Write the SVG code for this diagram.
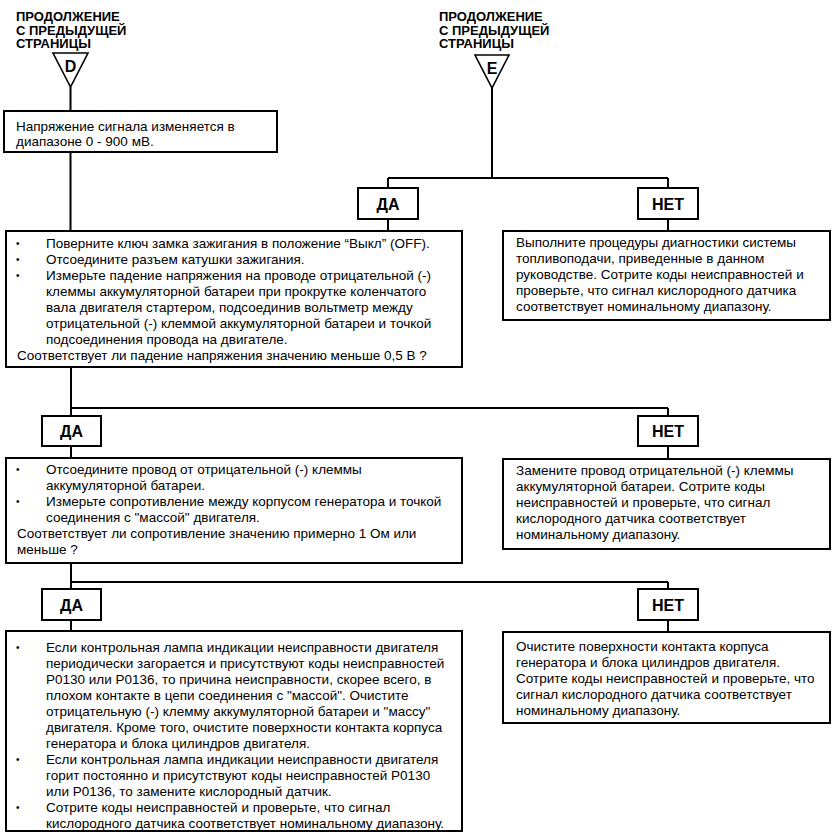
<svg xmlns="http://www.w3.org/2000/svg" width="835" height="836" viewBox="0 0 835 836">
<style>
.bg{fill:#fff}
.box{fill:#fff;stroke:#000;stroke-width:2}
.tri{fill:#fff;stroke:#000;stroke-width:1.6;stroke-linejoin:miter}
.con{fill:none;stroke:#000;stroke-width:2}
.t{font-family:"Liberation Sans",Arial,sans-serif;font-size:13.5px;fill:#000}
.h{font-family:"Liberation Sans",Arial,sans-serif;font-size:13px;font-weight:bold;fill:#000}
.lbl{font-family:"Liberation Sans",Arial,sans-serif;font-size:16px;font-weight:bold;fill:#000;text-anchor:middle}
.tl{font-family:"Liberation Sans",Arial,sans-serif;font-size:16px;font-weight:bold;fill:#000;text-anchor:middle}
.b{font-family:"Liberation Sans",Arial,sans-serif;font-size:10px;fill:#000}
</style>
<rect class="bg" x="0" y="0" width="835" height="836"/>
<g id="connectors">
<path class="con" d="M70.5 87V111M70.5 152V231"/>
<path class="con" d="M492 88V178M388 178H668M388 178V188M388 219V231M668 178V188M668 219V231"/>
<path class="con" d="M71 367V416M71 446V458M71 408H668M668 408V416M668 446V459"/>
<path class="con" d="M71 563V589M71 620V631M71 582H668M668 582V589M668 620V632"/>
</g>
<g id="startD">
<text class="h"><tspan x="16" y="21">ПРОДОЛЖЕНИЕ</tspan><tspan x="16" y="34.5">С ПРЕДЫДУЩЕЙ</tspan><tspan x="16" y="48">СТРАНИЦЫ</tspan></text>
<path class="tri" d="M53 53H88L70.5 87Z"/>
<text class="tl" x="70.5" y="72">D</text>
</g>
<g id="startE">
<text class="h"><tspan x="439" y="21">ПРОДОЛЖЕНИЕ</tspan><tspan x="439" y="34.5">С ПРЕДЫДУЩЕЙ</tspan><tspan x="439" y="48">СТРАНИЦЫ</tspan></text>
<path class="tri" d="M475 55H509L492 88Z"/>
<text class="tl" x="492" y="74">E</text>
</g>
<g id="n1">
<rect class="box" x="4" y="111" width="273" height="41"/>
<text class="t"><tspan x="16" y="131">Напряжение сигнала изменяется в</tspan><tspan x="16" y="146">диапазоне 0 - 900 мВ.</tspan></text>
</g>
<g id="yes1">
<rect class="box" x="358" y="188" width="60" height="31"/>
<text class="lbl" x="388" y="209.5">ДА</text>
</g>
<g id="no1">
<rect class="box" x="638" y="188" width="60" height="31"/>
<text class="lbl" x="668" y="209.5">НЕТ</text>
</g>
<g id="n2">
<rect class="box" x="6" y="231" width="456" height="136"/>
<text class="b"><tspan x="16" y="247">•</tspan><tspan x="16" y="263">•</tspan><tspan x="16" y="279">•</tspan></text>
<text class="t"><tspan x="46" y="248">Поверните ключ замка зажигания в положение “Выкл” (OFF).</tspan><tspan x="46" y="264">Отсоедините разъем катушки зажигания.</tspan><tspan x="46" y="280">Измерьте падение напряжения на проводе отрицательной (-)</tspan><tspan x="46" y="296">клеммы аккумуляторной батареи при прокрутке коленчатого</tspan><tspan x="46" y="312">вала двигателя стартером, подсоединив вольтметр между</tspan><tspan x="46" y="328">отрицательной (-) клеммой аккумуляторной батареи и точкой</tspan><tspan x="46" y="344">подсоединения провода на двигателе.</tspan><tspan x="17" y="360">Соответствует ли падение напряжения значению меньше 0,5 В ?</tspan></text>
</g>
<g id="n3">
<rect class="box" x="503" y="231" width="327" height="89"/>
<text class="t"><tspan x="516" y="247">Выполните процедуры диагностики системы</tspan><tspan x="516" y="263">топливоподачи, приведенные в данном</tspan><tspan x="516" y="279">руководстве. Сотрите коды неисправностей и</tspan><tspan x="516" y="295">проверьте, что сигнал кислородного датчика</tspan><tspan x="516" y="311">соответствует номинальному диапазону.</tspan></text>
</g>
<g id="yes2">
<rect class="box" x="42" y="416" width="59" height="30"/>
<text class="lbl" x="71.5" y="437">ДА</text>
</g>
<g id="no2">
<rect class="box" x="638" y="416" width="60" height="30"/>
<text class="lbl" x="668" y="437">НЕТ</text>
</g>
<g id="n4">
<rect class="box" x="6" y="458" width="456" height="105"/>
<text class="b"><tspan x="16" y="473">•</tspan><tspan x="16" y="505">•</tspan></text>
<text class="t"><tspan x="46" y="474">Отсоедините провод от отрицательной (-) клеммы</tspan><tspan x="46" y="490">аккумуляторной батареи.</tspan><tspan x="46" y="506">Измерьте сопротивление между корпусом генератора и точкой</tspan><tspan x="46" y="522">соединения с "массой" двигателя.</tspan><tspan x="17" y="538">Соответствует ли сопротивление значению примерно 1 Ом или</tspan><tspan x="17" y="554">меньше ?</tspan></text>
</g>
<g id="n5">
<rect class="box" x="503" y="459" width="327" height="90"/>
<text class="t"><tspan x="516" y="475">Замените провод отрицательной (-) клеммы</tspan><tspan x="516" y="491">аккумуляторной батареи. Сотрите коды</tspan><tspan x="516" y="507">неисправностей и проверьте, что сигнал</tspan><tspan x="516" y="523">кислородного датчика соответствует</tspan><tspan x="516" y="539">номинальному диапазону.</tspan></text>
</g>
<g id="yes3">
<rect class="box" x="42" y="589" width="59" height="31"/>
<text class="lbl" x="71.5" y="610.5">ДА</text>
</g>
<g id="no3">
<rect class="box" x="638" y="589" width="60" height="31"/>
<text class="lbl" x="668" y="610.5">НЕТ</text>
</g>
<g id="n6">
<rect class="box" x="6" y="631" width="456" height="200"/>
<text class="b"><tspan x="16" y="651">•</tspan><tspan x="16" y="763">•</tspan><tspan x="16" y="811">•</tspan></text>
<text class="t"><tspan x="46" y="652">Если контрольная лампа индикации неисправности двигателя</tspan><tspan x="46" y="668">периодически загорается и присутствуют коды неисправностей</tspan><tspan x="46" y="684">P0130 или P0136, то причина неисправности, скорее всего, в</tspan><tspan x="46" y="700">плохом контакте в цепи соединения с "массой". Очистите</tspan><tspan x="46" y="716">отрицательную (-) клемму аккумуляторной батареи и "массу"</tspan><tspan x="46" y="732">двигателя. Кроме того, очистите поверхности контакта корпуса</tspan><tspan x="46" y="748">генератора и блока цилиндров двигателя.</tspan><tspan x="46" y="764">Если контрольная лампа индикации неисправности двигателя</tspan><tspan x="46" y="780">горит постоянно и присутствуют коды неисправностей P0130</tspan><tspan x="46" y="796">или P0136, то замените кислородный датчик.</tspan><tspan x="46" y="812">Сотрите коды неисправностей и проверьте, что сигнал</tspan><tspan x="46" y="828">кислородного датчика соответствует номинальному диапазону.</tspan></text>
</g>
<g id="n7">
<rect class="box" x="503" y="632" width="327" height="91"/>
<text class="t"><tspan x="516" y="651">Очистите поверхности контакта корпуса</tspan><tspan x="516" y="667">генератора и блока цилиндров двигателя.</tspan><tspan x="516" y="683">Сотрите коды неисправностей и проверьте, что</tspan><tspan x="516" y="699">сигнал кислородного датчика соответствует</tspan><tspan x="516" y="715">номинальному диапазону.</tspan></text>
</g>
</svg>
